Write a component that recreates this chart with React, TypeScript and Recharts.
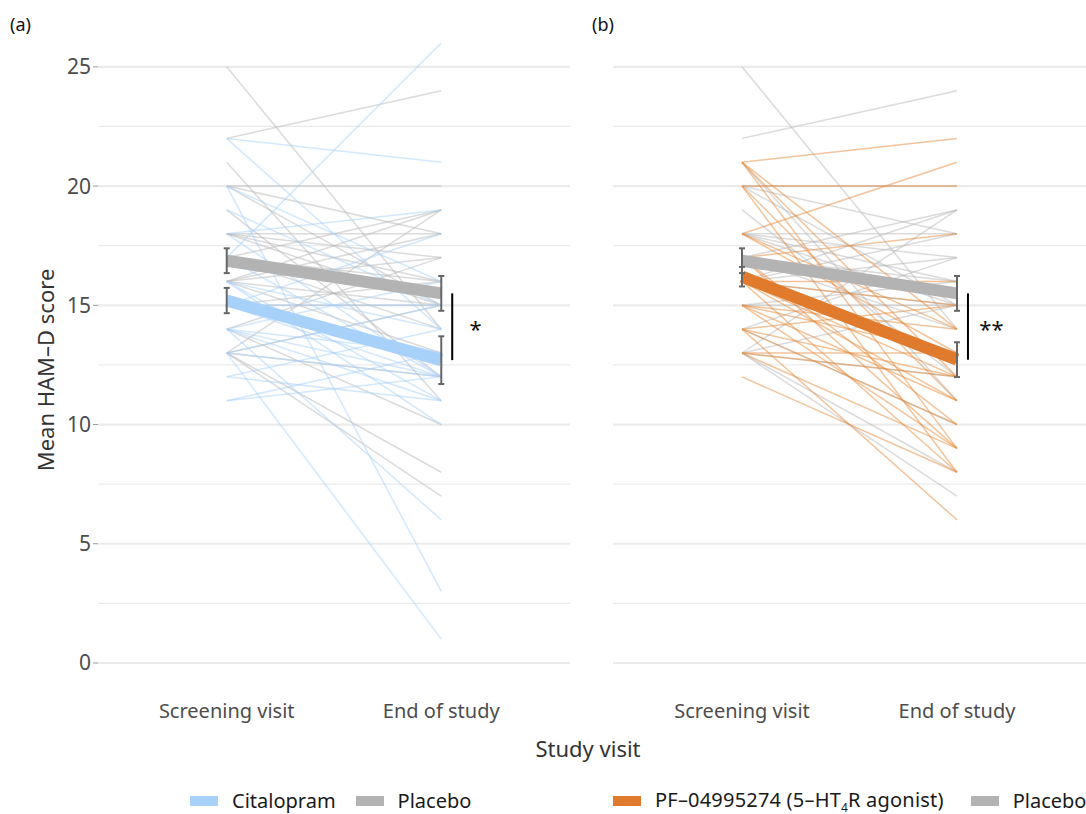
import React from 'react';
import { LineChart, Line, XAxis, YAxis, ReferenceLine, ReferenceDot, ErrorBar } from 'recharts';

const visits = ['Screening visit', 'End of study'];
const yTicks = [0, 5, 10, 15, 20, 25];
const yMinor = [2.5, 7.5, 12.5, 17.5, 22.5];

// individual HAM-D scores (screening, end of study)
const placeboScreening = [25, 22, 21, 20, 20, 19, 18, 18, 18, 17, 17, 17, 16, 16, 16, 16, 15, 13, 15, 14, 14, 13, 13, 13, 13, 18, 20, 16];
const placeboEnd = [14, 24, 11, 20, 18, 12, 18, 17, 15, 19, 14, 16, 19, 17, 15, 13, 15, 19, 16, 17, 10, 15, 8, 7, 12, 16, 15, 18];

const citalopramScreening = [22, 22, 20, 17, 20, 19, 18, 17, 16, 16, 15, 15, 15, 14, 14, 14, 14, 13, 13, 13, 12, 12, 11, 11, 16, 15, 14, 18];
const citalopramEnd = [21, 14, 3, 26, 16, 15, 19, 12, 14, 11, 15, 12, 13, 6, 13, 11, 16, 1, 12, 15, 11, 14, 12, 13, 10, 18, 12, 12];

const pfScreening = [21, 21, 21, 21, 20, 20, 20, 18, 18, 17, 17, 17, 16, 16, 16, 16, 15, 15, 15, 14, 14, 14, 14, 13, 13, 13, 12, 16, 18, 15];
const pfEnd = [22, 12, 9, 14, 20, 8, 11, 21, 13, 18, 9, 10, 15, 16, 12, 8, 13, 9, 14, 15, 12, 10, 6, 13, 12, 9, 8, 11, 14, 11];

// group means and error bars
const placeboMean = [16.87, 15.5];
const placeboErr = [0.52, 0.73];
const citalopramMean = [15.2, 12.7];
const citalopramErr = [0.53, 1.0];
const pfMean = [16.2, 12.72];
const pfErr = [0.41, 0.73];

const FONT = '"Noto Sans", "Open Sans", sans-serif';

const buildRows = (drugPre: number[], drugPost: number[], drugMean: number[], drugErr: number[]) =>
  visits.map((_, i) => {
    const row: Record<string, number> = { visit: i + 1 };
    const pl = i === 0 ? placeboScreening : placeboEnd;
    const dr = i === 0 ? drugPre : drugPost;
    pl.forEach((v, k) => (row[`p${k}`] = v));
    dr.forEach((v, k) => (row[`d${k}`] = v));
    row.pMean = placeboMean[i];
    row.pErr = placeboErr[i];
    row.dMean = drugMean[i];
    row.dErr = drugErr[i];
    return row;
  });

interface PanelProps {
  drugPre: number[];
  drugPost: number[];
  drugMean: number[];
  drugErr: number[];
  meanColor: string;
  lineColor: string;
  stars: string;
  showY: boolean;
  width: number;
}

const Panel = ({ drugPre, drugPost, drugMean, drugErr, meanColor, lineColor, stars, showY, width }: PanelProps) => {
  const rows = buildRows(drugPre, drugPost, drugMean, drugErr);
  return (
    <LineChart width={width} height={740} data={rows} margin={{ top: 12, right: 0, bottom: 0, left: 0 }}>
      <XAxis
        dataKey="visit"
        type="number"
        domain={[0.4, 2.6]}
        ticks={[1, 2]}
        tickFormatter={(v: number) => visits[v - 1]}
        axisLine={false}
        tickLine={false}
        tickMargin={4}
        height={46}
        tick={{ fill: '#4d4d4d', fontSize: 20, fontFamily: FONT }}
      />
      <YAxis
        type="number"
        domain={[-1.3, 27.3]}
        allowDataOverflow
        ticks={yTicks}
        hide={!showY}
        width={98}
        axisLine={false}
        tickSize={5}
        tickLine={{ stroke: '#999', strokeWidth: 1 }}
        tick={{ fill: '#4d4d4d', fontSize: 21, fontFamily: FONT }}
      />
      {yMinor.map((v) => (
        <ReferenceLine key={`mn${v}`} y={v} stroke="#ebebeb" strokeWidth={1.2} />
      ))}
      {yTicks.map((v) => (
        <ReferenceLine key={`mj${v}`} y={v} stroke="#ebebeb" strokeWidth={2.2} />
      ))}
      {placeboScreening.map((_, k) => (
        <Line key={`p${k}`} dataKey={`p${k}`} stroke="#b8b8b8" strokeOpacity={0.5} strokeWidth={1.5}
          dot={false} activeDot={false} isAnimationActive={false} />
      ))}
      {drugPre.map((_, k) => (
        <Line key={`d${k}`} dataKey={`d${k}`} stroke={lineColor} strokeOpacity={0.5} strokeWidth={1.5}
          dot={false} activeDot={false} isAnimationActive={false} />
      ))}
      <Line dataKey="pMean" stroke="#b3b3b3" strokeWidth={12} strokeLinecap="butt"
        dot={false} activeDot={false} isAnimationActive={false} />
      <Line dataKey="dMean" stroke={meanColor} strokeWidth={12} strokeLinecap="butt"
        dot={false} activeDot={false} isAnimationActive={false} />
      <Line dataKey="pMean" stroke="none" dot={false} activeDot={false} isAnimationActive={false}>
        <ErrorBar dataKey="pErr" direction="y" width={3} stroke="#666" strokeWidth={2} />
      </Line>
      <Line dataKey="dMean" stroke="none" dot={false} activeDot={false} isAnimationActive={false}>
        <ErrorBar dataKey="dErr" direction="y" width={3} stroke="#666" strokeWidth={2} />
      </Line>
      <ReferenceLine
        segment={[{ x: 2.051, y: placeboMean[1] }, { x: 2.051, y: drugMean[1] }]}
        stroke="#000"
        strokeWidth={2}
        ifOverflow="visible"
      />
      <ReferenceDot
        x={2.16}
        y={(placeboMean[1] + drugMean[1]) / 2}
        ifOverflow="visible"
        shape={(p: any) => (
          <text x={p.cx} y={p.cy + 10} textAnchor="middle" fontSize={22} fontFamily={FONT} fill="#111">
            {stars}
          </text>
        )}
      />
    </LineChart>
  );
};

const swatch = (color: string) => (
  <span style={{ display: 'inline-block', width: 28, height: 10, background: color, marginRight: 14 }} />
);

export default function App() {
  const text = { position: 'absolute' as const, fontFamily: FONT, whiteSpace: 'nowrap' as const };
  return (
    <div style={{ position: 'absolute', left: 0, top: 0, width: 1086, height: 814, background: '#fff' }}>
      <div style={{ position: 'absolute', left: 0, top: 0 }}>
        <Panel drugPre={citalopramScreening} drugPost={citalopramEnd} drugMean={citalopramMean} drugErr={citalopramErr}
          meanColor="#a8d1fa" lineColor="#a8d1fa" stars="*" showY width={570} />
      </div>
      <div style={{ position: 'absolute', left: 613, top: 0 }}>
        <Panel drugPre={pfScreening} drugPost={pfEnd} drugMean={pfMean} drugErr={pfErr}
          meanColor="#e07a2c" lineColor="#e8893a" stars="**" showY={false} width={473} />
      </div>

      <div style={{ ...text, left: 10, top: 12, fontSize: 18, color: '#111' }}>(a)</div>
      <div style={{ ...text, left: 592, top: 12, fontSize: 18, color: '#111' }}>(b)</div>

      <div style={{ ...text, left: 45, top: 370, fontSize: 22, color: '#333', transform: 'translate(-50%, -50%) rotate(-90deg)' }}>
        Mean HAM–D score
      </div>
      <div style={{ ...text, left: 588, top: 748, fontSize: 22, color: '#333', transform: 'translate(-50%, -50%)' }}>
        Study visit
      </div>

      <div style={{ ...text, left: 190, top: 788, height: 26, lineHeight: '26px', fontSize: 20, color: '#1a1a1a', display: 'flex', alignItems: 'center' }}>
        {swatch('#a8d1fa')}
        <span style={{ marginRight: 20 }}>Citalopram</span>
        {swatch('#b3b3b3')}
        <span>Placebo</span>
      </div>
      <div style={{ ...text, left: 613, top: 788, height: 26, lineHeight: '26px', fontSize: 20, color: '#1a1a1a', display: 'flex', alignItems: 'center' }}>
        {swatch('#e07a2c')}
        <span style={{ marginRight: 27, letterSpacing: 0.2 }}>
          PF–04995274 (5–HT<span style={{ fontSize: 12, position: 'relative', top: 5 }}>4</span>R agonist)
        </span>
        {swatch('#b3b3b3')}
        <span>Placebo</span>
      </div>
    </div>
  );
}
